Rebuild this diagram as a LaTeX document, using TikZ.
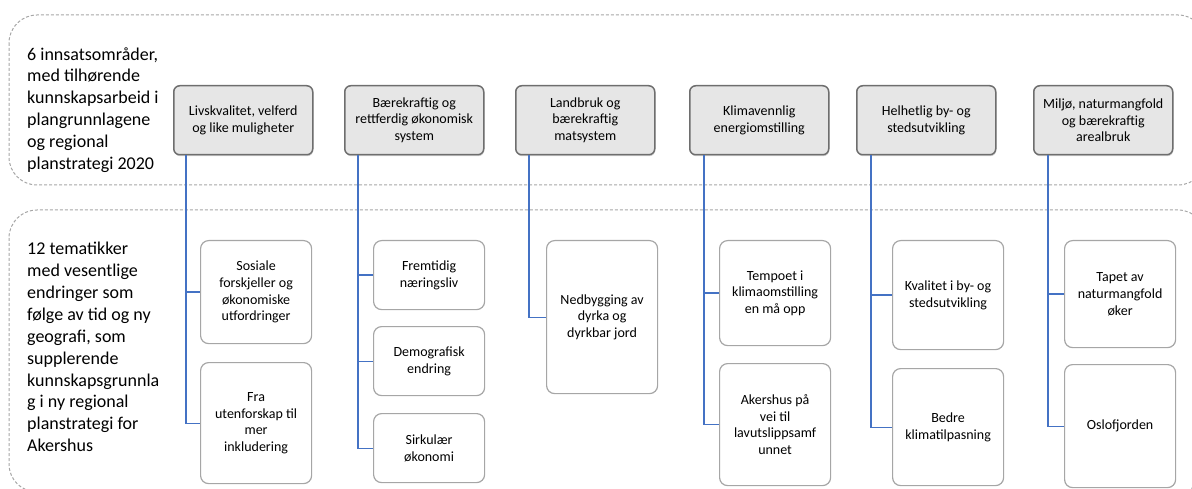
\documentclass[tikz,border=0pt]{standalone}
\usepackage{fontspec}
\setmainfont{Carlito}
\usetikzlibrary{shadows}
\definecolor{linkblue}{HTML}{4472C4}
\definecolor{boxgray}{HTML}{E6E6E6}
\definecolor{edgegray}{HTML}{6E6E6E}
\definecolor{kidgray}{HTML}{A6A6A6}
\newcommand{\boxfont}{\fontsize{14}{16.7}\selectfont}
\newcommand{\sidefont}{\fontsize{18}{21.9}\selectfont}
\tikzset{
  area/.style={draw=kidgray, line width=1pt, dash pattern=on 3pt off 2pt, rounded corners=28},
  sidetext/.style={anchor=west, align=left, inner sep=0pt, font=\sidefont},
  topic/.style={draw=edgegray, fill=boxgray, line width=1.5pt, rounded corners=6, anchor=north west,
                minimum width=139, minimum height=69, align=center, inner sep=2pt, font=\boxfont,
                drop shadow={shadow xshift=0.5pt, shadow yshift=-1.5pt, opacity=0.35}},
  theme/.style={draw=kidgray, fill=white, line width=1.2pt, rounded corners=8, anchor=north west,
                minimum width=111, align=center, inner sep=2pt, font=\boxfont},
  link/.style={linkblue, line width=1.2pt}
}

\begin{document}
\begin{tikzpicture}[x=1pt, y=-1pt]
    \useasboundingbox (0,0) rectangle (1192,489);
    \clip (0,0) rectangle (1192,489);

    % the two bands
    \draw [area] (9,15)  rectangle (1206,185);
    \draw [area] (9,210) rectangle (1206,492);

    \node [sidetext] (innsats) at (27,110) {6 innsatsområder,\\med tilhørende\\kunnskapsarbeid i\\plangrunnlagene\\og regional\\planstrategi 2020};
    \node [sidetext] (tema)    at (27,347) {12 tematikker\\med vesentlige\\endringer som\\følge av tid og ny\\geografi, som\\supplerende\\kunnskapsgrunnla\\g i ny regional\\planstrategi for\\Akershus};

    % innsatsområder
    \node [topic] (p1) at (173,85)  {Livskvalitet, velferd\\og like muligheter};
    \node [topic] (p2) at (344,85)  {Bærekraftig og\\rettferdig økonomisk\\system};
    \node [topic] (p3) at (515,85)  {Landbruk og\\bærekraftig\\matsystem};
    \node [topic] (p4) at (689,85)  {Klimavennlig\\energiomstilling};
    \node [topic] (p5) at (856,85)  {Helhetlig by- og\\stedsutvikling};
    \node [topic] (p6) at (1033,85) {Miljø, naturmangfold\\og bærekraftig\\arealbruk};

    % tematikker
    \node [theme, minimum height=103] (c1a) at (200,240)  {Sosiale\\forskjeller og\\økonomiske\\utfordringer};
    \node [theme, minimum height=121] (c1b) at (200,362)  {Fra\\utenforskap til\\mer\\inkludering};
    \node [theme, minimum height=69]  (c2a) at (373,240)  {Fremtidig\\næringsliv};
    \node [theme, minimum height=69]  (c2b) at (373,326)  {Demografisk\\endring};
    \node [theme, minimum height=69]  (c2c) at (373,413)  {Sirkulær\\økonomi};
    \node [theme, minimum height=153] (c3a) at (546,240)  {Nedbygging av\\dyrka og\\dyrkbar jord};
    \node [theme, minimum height=105] (c4a) at (719,240)  {Tempoet i\\klimaomstilling\\en må opp};
    \node [theme, minimum height=122] (c4b) at (719,363)  {Akershus på\\vei til\\lavutslippsamf\\unnet};
    \node [theme, minimum height=109] (c5a) at (892,240)  {Kvalitet i by- og\\stedsutvikling};
    \node [theme, minimum height=117] (c5b) at (892,368)  {Bedre\\klimatilpasning};
    \node [theme, minimum height=107] (c6a) at (1064,240) {Tapet av\\naturmangfold\\øker};
    \node [theme, minimum height=123] (c6b) at (1064,364) {Oslofjorden};

    \draw [link] ([xshift=13]p1.south west) |- (c1a.west);
    \draw [link] ([xshift=13]p1.south west) |- (c1b.west);
    \draw [link] ([xshift=14]p2.south west) |- (c2a.west);
    \draw [link] ([xshift=14]p2.south west) |- (c2b.west);
    \draw [link] ([xshift=14]p2.south west) |- (c2c.west);
    \draw [link] ([xshift=14]p3.south west) |- (c3a.west);
    \draw [link] ([xshift=15]p4.south west) |- (c4a.west);
    \draw [link] ([xshift=15]p4.south west) |- (c4b.west);
    \draw [link] ([xshift=15]p5.south west) |- (c5a.west);
    \draw [link] ([xshift=15]p5.south west) |- (c5b.west);
    \draw [link] ([xshift=15]p6.south west) |- (c6a.west);
    \draw [link] ([xshift=15]p6.south west) |- (c6b.west);
\end{tikzpicture}
\end{document}
